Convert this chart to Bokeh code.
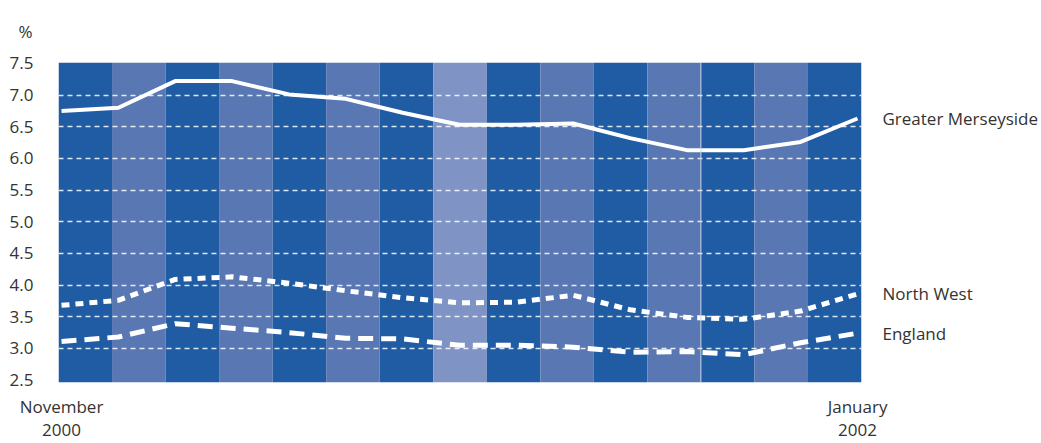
from bokeh.plotting import figure
from bokeh.models import (Range1d, FixedTicker, Span, PrintfTickFormatter,
                          LinearAxis, Title)
from bokeh.embed import file_html
from bokeh.resources import INLINE

# ---------------- data ----------------
months = ["Nov 2000", "Dec 2000", "Jan 2001", "Feb 2001", "Mar 2001", "Apr 2001",
          "May 2001", "Jun 2001", "Jul 2001", "Aug 2001", "Sep 2001", "Oct 2001",
          "Nov 2001", "Dec 2001", "Jan 2002"]
greater_merseyside = [6.75, 6.80, 7.22, 7.22, 7.01, 6.94, 6.72, 6.53, 6.53, 6.55,
                      6.32, 6.13, 6.13, 6.26, 6.63]
north_west = [3.68, 3.76, 4.09, 4.13, 4.03, 3.91, 3.80, 3.72, 3.73, 3.84,
              3.61, 3.49, 3.46, 3.59, 3.86]
england = [3.11, 3.18, 3.39, 3.32, 3.25, 3.16, 3.15, 3.05, 3.05, 3.02,
           2.94, 2.95, 2.90, 3.09, 3.24]
band_shades = ["dark", "mid", "dark", "mid", "dark", "mid", "dark", "light",
               "dark", "mid", "dark", "mid", "dark", "mid", "dark"]
y_ticks = [2.5, 3.0, 3.5, 4.0, 4.5, 5.0, 5.5, 6.0, 6.5, 7.0, 7.5]
grid_values = [3.0, 3.5, 4.0, 4.5, 5.0, 5.5, 6.0, 6.5, 7.0]
x_tick_labels = {0: "November\n2000", 14: "January\n2002"}
series_names = ["Greater Merseyside", "North West", "England"]
unit_label = "%"

# ---------------- styles ----------------
shade_colors = {"dark": "#1f5ca3", "mid": "#5977b2", "light": "#7f94c5"}
FONT = "Open Sans"
TEXT_COLOR = "#333333"
FS = "17px"

n = len(months)
idx = list(range(n))

y_start, y_end = 2.462, 7.514
p = figure(width=1041, height=443, output_backend="svg", toolbar_location=None,
           x_range=Range1d(-0.0528, 14.07), y_range=Range1d(y_start, y_end),
           min_border_left=58, min_border_right=180, min_border_top=62,
           min_border_bottom=61)
p.extra_x_ranges = {"cols": Range1d(0, n)}
p.outline_line_color = None
p.background_fill_color = "white"

p.title = Title(text=unit_label, text_font=FONT, text_font_size=FS,
                text_font_style="normal", text_color=TEXT_COLOR,
                align="left", offset=-40, standoff=36, vertical_align="top")

# month bands
p.quad(left=idx, right=[i + 1 for i in idx],
       bottom=[y_start] * n, top=[y_end] * n,
       fill_color=[shade_colors[s] for s in band_shades], line_color=None,
       x_range_name="cols", level="image")
p.add_layout(Span(location=12, dimension="height", x_range_name="cols",
                  line_color="#c9d3e6", line_width=1))

# grid
p.xgrid.visible = False
p.ygrid.ticker = FixedTicker(ticks=grid_values)
p.ygrid.grid_line_color = "white"
p.ygrid.grid_line_dash = "5 4"
p.ygrid.grid_line_alpha = 0.85
p.ygrid.grid_line_width = 1.3

# lines
series = [greater_merseyside, north_west, england]
p.line(idx, greater_merseyside, line_color="white", line_width=4)
p.line(idx, north_west, line_color="white", line_width=5, line_dash="8 6")
p.line(idx, england, line_color="white", line_width=5, line_dash="15 8")

# left axis
left_axis = p.left[0]
left_axis.ticker = FixedTicker(ticks=y_ticks)
left_axis.formatter = PrintfTickFormatter(format="%.1f")
left_axis.major_label_standoff = 25

# series names as a right-hand axis placed at each series' last value
last_vals = [s[-1] for s in series]
right_axis = LinearAxis(ticker=FixedTicker(ticks=last_vals),
                        major_label_overrides={v: nm for v, nm in zip(last_vals, series_names)})
p.add_layout(right_axis, "right")
right_axis.major_label_standoff = 21

bottom_axis = p.below[0]
bottom_axis.ticker = FixedTicker(ticks=[0, 14])
bottom_axis.major_label_overrides = x_tick_labels
bottom_axis.major_label_standoff = 12
bottom_axis.major_label_text_line_height = 1.0

for ax in (left_axis, right_axis, bottom_axis):
    ax.axis_line_color = None
    ax.major_tick_line_color = None
    ax.minor_tick_line_color = None
    ax.major_tick_out = 0
    ax.major_tick_in = 0
    ax.minor_tick_out = 0
    ax.minor_tick_in = 0
    ax.major_label_text_font = FONT
    ax.major_label_text_font_size = FS
    ax.major_label_text_color = TEXT_COLOR

open("out.html", "w").write(file_html(p, INLINE))
